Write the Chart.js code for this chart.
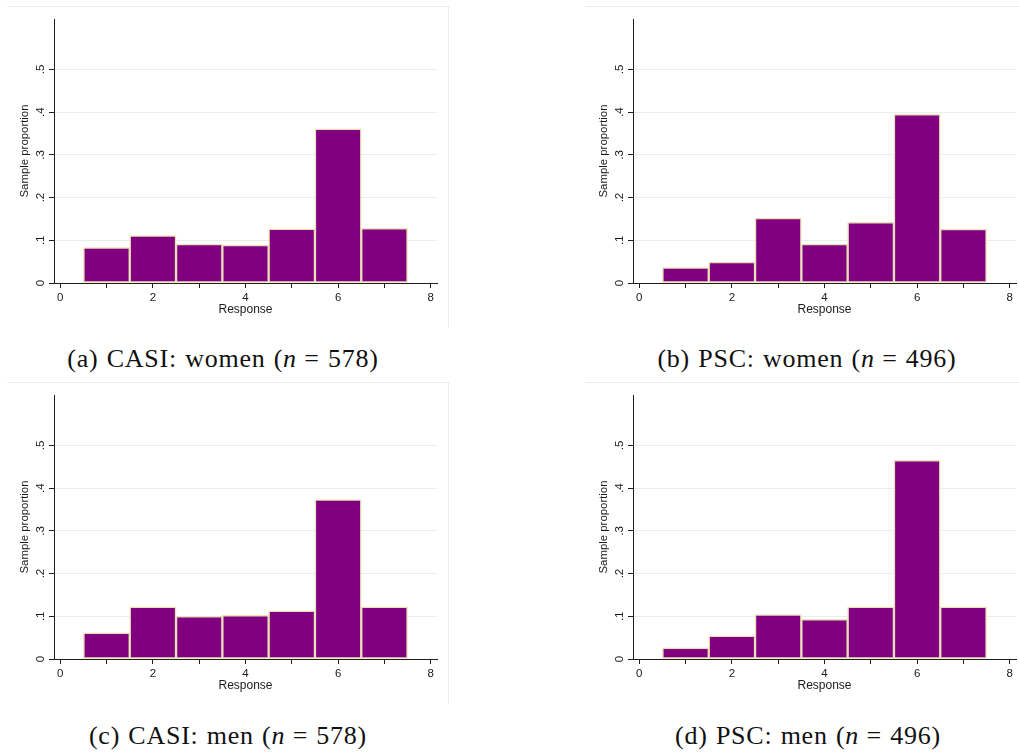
<!DOCTYPE html>
<html>
<head>
<meta charset="utf-8">
<title>Sample proportion by response</title>
<script src="https://cdn.jsdelivr.net/npm/chart.js@4.4.1/dist/chart.umd.min.js"></script>
<style>
    html, body {
        margin: 0;
        padding: 0;
        background: #ffffff;
    }
    body {
        position: relative;
        width: 1019px;
        height: 753px;
        overflow: hidden;
    }
    .panel {
        position: absolute;
        width: 442px;
        height: 322px;
        box-sizing: border-box;
        border-top: 1px solid #e6eeee;
        border-right: 1px solid #e6eeee;
    }
    .panel canvas {
        position: absolute;
        left: 0;
        top: 0;
    }
    .caption {
        position: absolute;
        width: 440px;
        text-align: center;
        font-family: "Liberation Serif", "Times New Roman", serif;
        font-size: 26px;
        line-height: 26px;
        letter-spacing: 0.75px;
        word-spacing: 1px;
        color: #111;
        white-space: nowrap;
    }
    .caption i { letter-spacing: 0; }
    #panel-a { left: 7px;   top: 6px; }
    #panel-b { left: 586px; top: 6px; }
    #panel-c { left: 7px;   top: 382px; }
    #panel-d { left: 586px; top: 382px; }
    #caption-a { left: 3px;   top: 346px; }
    #caption-b { left: 587px; top: 346px; }
    #caption-c { left: 8px;   top: 723px; }
    #caption-d { left: 588px; top: 723px; }
</style>
</head>
<body>

<div class="panel" id="panel-a"><canvas id="chart-a" width="442" height="322"></canvas></div>
<div class="panel" id="panel-b"><canvas id="chart-b" width="442" height="322"></canvas></div>
<div class="panel" id="panel-c"><canvas id="chart-c" width="442" height="322"></canvas></div>
<div class="panel" id="panel-d"><canvas id="chart-d" width="442" height="322"></canvas></div>

<div class="caption" id="caption-a">(a) CASI: women (<i>n</i> = 578)</div>
<div class="caption" id="caption-b">(b) PSC: women (<i>n</i> = 496)</div>
<div class="caption" id="caption-c">(c) CASI: men (<i>n</i> = 578)</div>
<div class="caption" id="caption-d">(d) PSC: men (<i>n</i> = 496)</div>

<script>
/* ============================================================
   DATA
   ============================================================ */

const responses = [1, 2, 3, 4, 5, 6, 7];

const casiWomen = [0.083, 0.111, 0.091, 0.089, 0.127, 0.361, 0.128];
const pscWomen  = [0.036, 0.049, 0.152, 0.091, 0.142, 0.395, 0.126];
const casiMen   = [0.061, 0.122, 0.100, 0.102, 0.113, 0.373, 0.122];
const pscMen    = [0.026, 0.054, 0.104, 0.093, 0.122, 0.465, 0.122];

const xTicks      = [0, 1, 2, 3, 4, 5, 6, 7, 8];
const xTickLabels = ["0", "", "2", "", "4", "", "6", "", "8"];

const yTicks      = [0, 0.1, 0.2, 0.3, 0.4, 0.5];
const yTickLabels = ["0", ".1", ".2", ".3", ".4", ".5"];

const xAxisTitle = "Response";
const yAxisTitle = "Sample proportion";


/* ============================================================
   STYLE
   ============================================================ */

const BAR_FILL   = "#800080";
const BAR_EDGE   = "#e9dfb8";
const AXIS_COLOR = "#1e1e1e";
const GRID_COLOR = "#e6eef0";
const TEXT_COLOR = "#1a1a1a";
const SANS       = "'Liberation Sans', Arial, sans-serif";


/* ============================================================
   HISTOGRAM PANEL
   ============================================================ */

function renderHistogram(canvasId, values) {
    const canvas = document.getElementById(canvasId);
    if (!canvas) return null;

    const ctx = canvas.getContext("2d");

    return new Chart(ctx, {
        type: "bar",
        data: {
            datasets: [{
                data: values.map((v, i) => ({ x: responses[i], y: v })),
                backgroundColor: BAR_FILL,
                borderColor: BAR_EDGE,
                borderWidth: 1.5,
                borderSkipped: false,
                barPercentage: 1,
                categoryPercentage: 1
            }]
        },
        options: {
            responsive: false,
            animation: false,
            events: [],
            layout: {
                padding: { left: 0, top: 12, right: 12, bottom: 6 }
            },
            scales: {
                x: {
                    type: "linear",
                    min: -0.136,
                    max: 8.136,
                    offset: false,
                    afterFit: s => { s.height = 40; },
                    afterBuildTicks: s => { s.ticks = xTicks.map(v => ({ value: v })); },
                    grid: {
                        offset: false,
                        drawOnChartArea: false,
                        tickLength: 5,
                        tickColor: AXIS_COLOR
                    },
                    border: { color: AXIS_COLOR, width: 1 },
                    ticks: {
                        padding: 3,
                        color: TEXT_COLOR,
                        font: { family: SANS, size: 11.5 },
                        maxRotation: 0,
                        autoSkip: false,
                        callback: (v, i) => xTickLabels[i]
                    },
                    title: {
                        display: true,
                        text: xAxisTitle,
                        color: TEXT_COLOR,
                        font: { family: SANS, size: 12 },
                        padding: { top: 0, bottom: 6 }
                    }
                },
                y: {
                    min: 0,
                    max: 0.618,
                    afterFit: s => { s.width = 47; },
                    afterBuildTicks: s => { s.ticks = yTicks.map(v => ({ value: v })); },
                    grid: {
                        color: GRID_COLOR,
                        lineWidth: 1,
                        tickLength: 5,
                        tickColor: AXIS_COLOR
                    },
                    border: { color: AXIS_COLOR, width: 1 },
                    ticks: {
                        padding: 3,
                        minRotation: 90,
                        maxRotation: 90,
                        crossAlign: "center",
                        color: TEXT_COLOR,
                        font: { family: SANS, size: 11.5 },
                        autoSkip: false,
                        callback: (v, i) => yTickLabels[i]
                    },
                    title: {
                        display: true,
                        text: yAxisTitle,
                        color: TEXT_COLOR,
                        font: { family: SANS, size: 11.4 },
                        padding: { top: 11, bottom: 0 }
                    }
                }
            },
            plugins: {
                legend: { display: false },
                tooltip: { enabled: false }
            }
        }
    });
}


/* ============================================================
   RENDER
   ============================================================ */

renderHistogram("chart-a", casiWomen);
renderHistogram("chart-b", pscWomen);
renderHistogram("chart-c", casiMen);
renderHistogram("chart-d", pscMen);
</script>
</body>
</html>
